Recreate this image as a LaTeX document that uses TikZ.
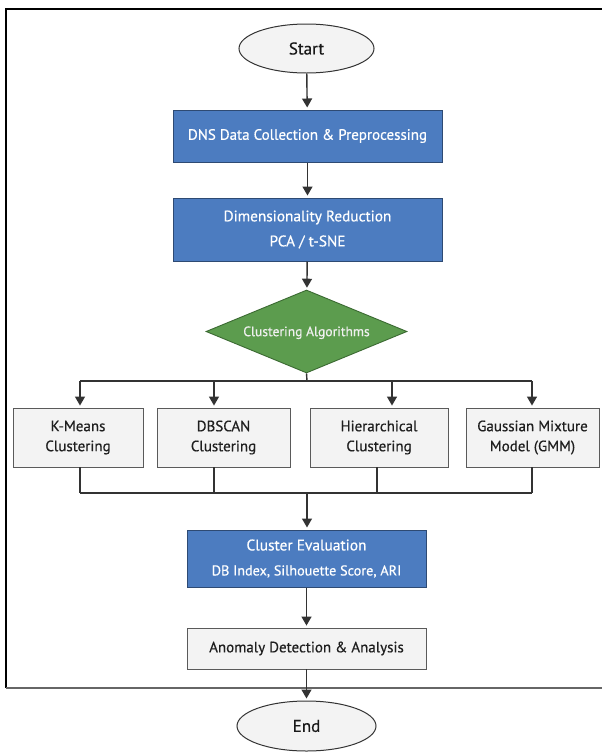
\documentclass[tikz,border=0pt]{standalone}
\usepackage{fontspec}
\setmainfont{PT Sans}[FakeBold=0.5]
\usetikzlibrary{shapes.geometric,arrows.meta}
\definecolor{boxblue}{HTML}{4C7CC0}
\definecolor{blueline}{HTML}{2E4A73}
\definecolor{dgreen}{HTML}{5C9C4E}
\definecolor{greenline}{HTML}{3B6A32}
\definecolor{lgray}{HTML}{F3F3F3}
\definecolor{grayline}{HTML}{5A5A5A}
\definecolor{arrowc}{HTML}{333333}
\tikzset{
  bluebox/.style={rectangle,draw=blueline,line width=1pt,fill=boxblue,text=white,align=center,inner sep=0pt},
  graybox/.style={rectangle,draw=grayline,line width=0.9pt,fill=lgray,text=black!88,align=center,inner sep=0pt},
  term/.style={ellipse,draw=black!80,line width=1pt,fill=lgray,text=black!90,inner sep=0pt},
  decide/.style={diamond,draw=greenline,line width=0.9pt,fill=dgreen,text=white!94!black,inner sep=0pt,aspect=2.42},
  flow/.style={draw=arrowc,line width=1.4pt,-{Triangle[length=9pt,width=10pt]},shorten >=2pt},
  link/.style={draw=arrowc,line width=1.4pt}
}
\begin{document}
\begin{tikzpicture}[x=1pt,y=-1pt]
\useasboundingbox (0,0) rectangle (602,753);
\fill[white] (0,0) rectangle (602,753);
% frame
\draw[black,line width=1.3pt] (602,9) -- (6,9) -- (6,688);
\draw[black!60,line width=1.5pt] (6,688) -- (602,688);
% nodes
\node[term,minimum width=135pt,minimum height=49pt,font=\fontsize{17}{19}\selectfont] (start) at (306.5,48.5) {Start};
\node[bluebox,minimum width=269pt,minimum height=52pt,font=\fontsize{15}{17}\selectfont] (dns) at (307.5,136) {DNS Data Collection \& Preprocessing};
\node[bluebox,minimum width=269pt,minimum height=63pt,font=\fontsize{15.3}{25}\selectfont] (dim) at (307.5,229.5) {Dimensionality Reduction\\PCA / t-SNE};
\node[decide,minimum width=201pt,minimum height=83pt,font=\fontsize{13.6}{15}\selectfont] (alg) at (306.5,331.5) {\makebox[0pt]{\raisebox{-0.34em}[0pt][0pt]{Clustering Algorithms}}};
\node[graybox,minimum width=130pt,minimum height=59pt,font=\fontsize{15}{20}\selectfont] (km) at (78,437.5) {K-Means\\Clustering};
\node[graybox,minimum width=133pt,minimum height=59pt,font=\fontsize{15}{20}\selectfont] (dbs) at (223.5,437.5) {DBSCAN\\Clustering};
\node[graybox,minimum width=138pt,minimum height=59pt,font=\fontsize{15}{20}\selectfont] (hier) at (379,437.5) {Hierarchical\\Clustering};
\node[graybox,minimum width=133pt,minimum height=59pt,font=\fontsize{15}{20}\selectfont] (gmm) at (532.5,437.5) {Gaussian Mixture\\Model (GMM)};
\node[bluebox,minimum width=239pt,minimum height=57pt,font=\fontsize{15.4}{25}\selectfont] (eval) at (306.5,558.5) {Cluster Evaluation\\{\fontsize{14.2}{16}\selectfont DB Index, Silhouette Score, ARI}};
\node[graybox,minimum width=239pt,minimum height=41pt,font=\fontsize{15}{17}\selectfont] (anom) at (306.5,648.5) {Anomaly Detection \& Analysis};
\node[term,minimum width=139pt,minimum height=50pt,font=\fontsize{17}{19}\selectfont] (end) at (306.5,726) {End};
% junction coordinates
\coordinate (bt) at (307,381);
\coordinate (bl) at (80,381);
\coordinate (br) at (532,381);
\coordinate (b2) at (214,381);
\coordinate (b3) at (392,381);
\coordinate (lb) at (307,493);
\coordinate (l1) at (80,493);
\coordinate (l2) at (214,493);
\coordinate (l3) at (377,493);
\coordinate (l4) at (532,493);
% connectors
\draw[flow] (start) -- (dns);
\draw[flow] (dns) -- (dim);
\draw[flow] (dim) -- (alg);
\draw[link] (alg.south) -- (bt);
\draw[link] (bl) -- (br);
\draw[flow] (bl) -- (bl |- km.north);
\draw[flow] (b2) -- (b2 |- dbs.north);
\draw[flow] (b3) -- (b3 |- hier.north);
\draw[flow] (br) -- (br |- gmm.north);
\draw[link] (l1 |- km.south) -- (l1);
\draw[link] (l2 |- dbs.south) -- (l2);
\draw[link] (l3 |- hier.south) -- (l3);
\draw[link] (l4 |- gmm.south) -- (l4);
\draw[link] (l1) -- (l4);
\draw[flow] (lb) -- (lb |- eval.north);
\draw[flow] (eval) -- (anom);
\draw[flow] (anom) -- (end);
\end{tikzpicture}
\end{document}
